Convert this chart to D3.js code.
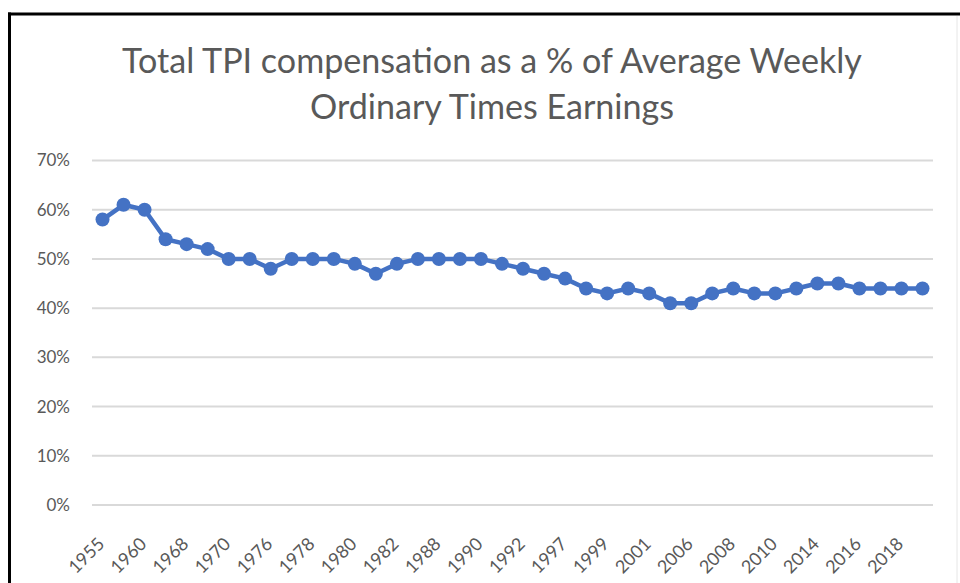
<!DOCTYPE html>
<html>
<head>
<meta charset="utf-8">
<script src="https://cdn.jsdelivr.net/npm/d3@7"></script>
<style>
  html, body { margin: 0; padding: 0; background: #fff; }
  svg { display: block; }
</style>
</head>
<body>
<svg id="chart" width="960" height="583"></svg>
<script>
// ---- data ----
const categories = [
  "1955","1958","1960","1965","1968","1969","1970","1975","1976","1977",
  "1978","1979","1980","1981","1982","1984","1988","1989","1990","1991",
  "1992","1995","1997","1998","1999","2000","2001","2003","2006","2007",
  "2008","2009","2010","2012","2014","2015","2016","2017","2018","2019"
];
const values = [
  0.58,0.61,0.60,0.54,0.53,0.52,0.50,0.50,0.48,0.50,
  0.50,0.50,0.49,0.47,0.49,0.50,0.50,0.50,0.50,0.49,
  0.48,0.47,0.46,0.44,0.43,0.44,0.43,0.41,0.41,0.43,
  0.44,0.43,0.43,0.44,0.45,0.45,0.44,0.44,0.44,0.44
];
const yTicks = [0,0.1,0.2,0.3,0.4,0.5,0.6,0.7];
const titleLines = ["Total TPI compensation as a % of Average Weekly", "Ordinary Times Earnings"];

// ---- chart ----
const svg = d3.select("#chart");
const textColor = "#595959";
const font = "Lato, 'Open Sans', sans-serif";

const x = d3.scaleBand().domain(categories).range([92, 933]).padding(0);
const y = d3.scaleLinear().domain([0, 0.7]).range([505, 160.5]);

// frame
svg.append("line").attr("x1", 8).attr("x2", 960).attr("y1", 14).attr("y2", 14)
  .attr("stroke", "#000").attr("stroke-width", 3);
svg.append("line").attr("x1", 9.5).attr("x2", 9.5).attr("y1", 12.5).attr("y2", 583)
  .attr("stroke", "#000").attr("stroke-width", 3);
svg.append("line").attr("x1", 957).attr("x2", 957).attr("y1", 16).attr("y2", 583)
  .attr("stroke", "#e6e6e6").attr("stroke-width", 1);

// title
const title = svg.append("g");
titleLines.forEach((t, i) => {
  title.append("text")
    .attr("x", 492).attr("y", 73 + i * 46)
    .attr("text-anchor", "middle")
    .attr("font-family", font).attr("font-size", 30)
    .attr("fill", textColor)
    .text(t);
});
// fit the first line to the reference width
const first = title.select("text").node();
const w = first.getComputedTextLength();
const fs = 30 * 740 / w;
title.selectAll("text").attr("font-size", fs);

// gridlines
svg.append("g").selectAll("line").data(yTicks).join("line")
  .attr("x1", 92).attr("x2", 933)
  .attr("y1", d => y(d)).attr("y2", d => y(d))
  .attr("stroke", "#d9d9d9").attr("stroke-width", 2);

// y axis labels
svg.append("g").selectAll("text").data(yTicks).join("text")
  .attr("x", 70).attr("y", d => y(d)).attr("dy", "0.35em")
  .attr("text-anchor", "end")
  .attr("font-family", font).attr("font-size", 17)
  .attr("fill", textColor)
  .text(d => d3.format(".0%")(d));

// x axis labels (every other category)
const shown = categories.filter((c, i) => i % 2 === 0);
svg.append("g").selectAll("text").data(shown).join("text")
  .attr("transform", d => `translate(${x(d) + x.bandwidth() / 2 + 3},545) rotate(-45)`)
  .attr("text-anchor", "end")
  .attr("font-family", font).attr("font-size", 18)
  .attr("fill", textColor)
  .text(d => d);

// line
const line = d3.line()
  .x((d, i) => x(categories[i]) + x.bandwidth() / 2)
  .y(d => y(d));
svg.append("path").datum(values)
  .attr("d", line)
  .attr("fill", "none")
  .attr("stroke", "#4472C4")
  .attr("stroke-width", 4.5)
  .attr("stroke-linejoin", "round");

svg.append("g").selectAll("circle").data(values).join("circle")
  .attr("cx", (d, i) => x(categories[i]) + x.bandwidth() / 2)
  .attr("cy", d => y(d))
  .attr("r", 7)
  .attr("fill", "#4472C4");
</script>
</body>
</html>
